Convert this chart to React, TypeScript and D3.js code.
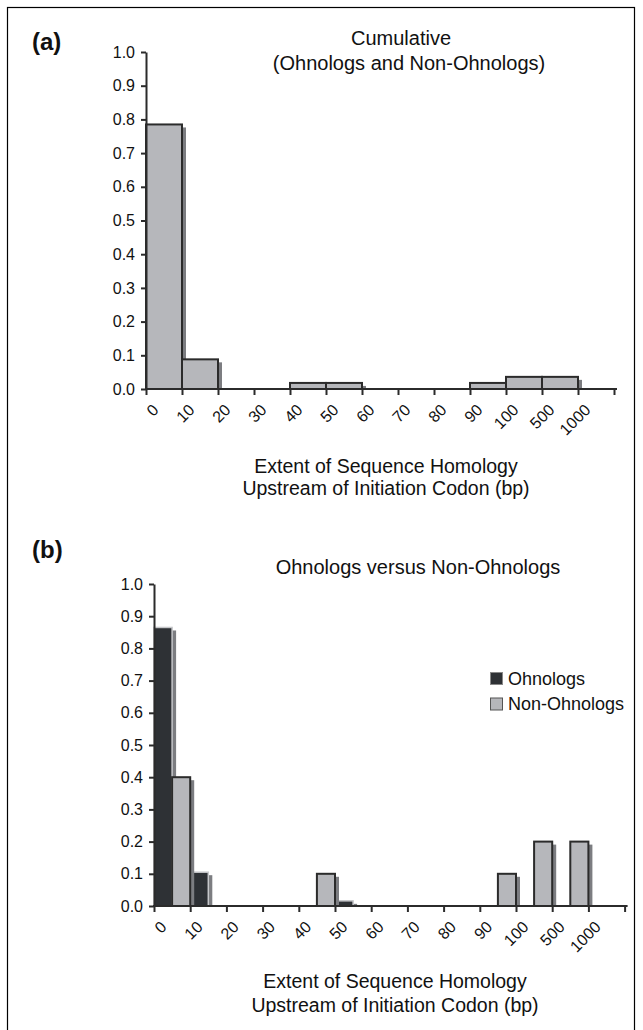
import * as d3 from "d3";
import { useEffect, useRef } from "react";

// bins
const categories = ["0", "10", "20", "30", "40", "50", "60", "70", "80", "90", "100", "500", "1000"];
const cumulative = [0.785, 0.088, 0, 0, 0.018, 0.018, 0, 0, 0, 0.018, 0.036, 0.036, 0];
const ohnologs = [0.865, 0.105, 0, 0, 0, 0.016, 0, 0, 0, 0, 0, 0, 0];
const nonOhnologs = [0.4, 0, 0, 0, 0.1, 0, 0, 0, 0, 0.1, 0.2, 0.2, 0];
const yTicks = [0, 0.1, 0.2, 0.3, 0.4, 0.5, 0.6, 0.7, 0.8, 0.9, 1.0];
const seriesNames = ["Ohnologs", "Non-Ohnologs"];

const FONT = "'Liberation Sans', Arial, Helvetica, sans-serif";
const GRAY = "#b6b7bb";
const DARK = "#2e3135";
const SHADOW = "#7c7d81";
const INK = "#2b2b2b";

type Panel = { left: number; top: number; bottom: number; bandW: number };
type Bar = { x: number; w: number; v: number };

function drawAxes(g: any, p: Panel) {
  const y = d3.scaleLinear().domain([0, 1]).range([p.bottom, p.top]);
  const n = categories.length;
  const xi = d3.scaleLinear().domain([0, n]).range([p.left, p.left + p.bandW * n]);

  const ya = g.append("g")
    .attr("transform", `translate(${p.left},0)`)
    .call(d3.axisLeft(y).tickValues(yTicks).tickFormat(d3.format(".1f")).tickSize(5).tickPadding(6).tickSizeOuter(0));
  ya.select(".domain").attr("stroke", INK).attr("stroke-width", 2);
  ya.selectAll(".tick line").attr("stroke", INK).attr("stroke-width", 2);
  ya.selectAll("text").attr("font-family", FONT).attr("font-size", 16).attr("fill", "#111");

  // ticks sit on the bin edges, labels at the left edge of each bin
  const xa = g.append("g")
    .attr("transform", `translate(0,${p.bottom})`)
    .call(d3.axisBottom(xi).tickValues(d3.range(n + 1)).tickFormat((i: any) => categories[i] ?? "").tickSize(6));
  xa.select(".domain").remove();
  xa.selectAll(".tick line").attr("stroke", INK).attr("stroke-width", 2);
  xa.selectAll("text")
    .attr("font-family", FONT).attr("font-size", 16).attr("fill", "#111")
    .attr("x", 0).attr("y", 0).attr("dy", 0)
    .attr("text-anchor", "end")
    .attr("transform", "translate(13,22) rotate(-45)");
  g.append("line")
    .attr("x1", p.left - 1).attr("x2", xi(n) + 3)
    .attr("y1", p.bottom).attr("y2", p.bottom)
    .attr("stroke", INK).attr("stroke-width", 2);
  return y;
}

function shadows(g: any, data: Bar[], y: any) {
  const d = data.filter(e => e.v > 0);
  g.append("g").selectAll("rect").data(d).enter().append("rect")
    .attr("x", (e: Bar) => e.x + 4).attr("y", (e: Bar) => y(e.v) + 3)
    .attr("width", (e: Bar) => e.w).attr("height", (e: Bar) => y(0) - y(e.v) - 3)
    .attr("fill", SHADOW);
  return d;
}

function fronts(g: any, d: Bar[], y: any, fill: string, stroke: string, sw: number) {
  g.append("g").selectAll("rect").data(d).enter().append("rect")
    .attr("x", (e: Bar) => e.x).attr("y", (e: Bar) => y(e.v))
    .attr("width", (e: Bar) => e.w).attr("height", (e: Bar) => y(0) - y(e.v))
    .attr("fill", fill).attr("stroke", stroke).attr("stroke-width", sw);
}

export default function App() {
  const ref = useRef<SVGSVGElement>(null);

  useEffect(() => {
    document.body.style.margin = "0";
    const svg = d3.select(ref.current);
    svg.selectAll("*").remove();

    svg.append("rect").attr("x", 7.5).attr("y", 7.5).attr("width", 627).attr("height", 1040)
      .attr("fill", "none").attr("stroke", "#000").attr("stroke-width", 1.2);

    const text = (x: number, yy: number, s: string, size: number, anchor = "middle", weight = "normal") =>
      svg.append("text").attr("x", x).attr("y", yy).attr("text-anchor", anchor)
        .attr("font-family", FONT).attr("font-size", size).attr("font-weight", weight).attr("fill", "#111").text(s);

    // (a) cumulative
    const pa: Panel = { left: 146, top: 52, bottom: 389, bandW: 36 };
    const ga = svg.append("g");
    const xa = d3.scaleBand().domain(categories).range([pa.left, pa.left + pa.bandW * categories.length]);
    const ya = d3.scaleLinear().domain([0, 1]).range([pa.bottom, pa.top]);
    const da = shadows(ga, cumulative.map((v, i) => ({ x: xa(categories[i])!, w: xa.bandwidth(), v })), ya);
    fronts(ga, da, ya, GRAY, INK, 2);
    drawAxes(ga, pa);

    text(32, 50, "(a)", 24, "start", "bold");
    text(401, 45, "Cumulative", 20);
    text(409, 70, "(Ohnologs and Non-Ohnologs)", 20);
    text(386, 473, "Extent of Sequence Homology", 19.5);
    text(386, 495, "Upstream of Initiation Codon (bp)", 19.5);

    // (b) ohnologs vs non-ohnologs
    const pb: Panel = { left: 154, top: 584, bottom: 906, bandW: 36.2 };
    const gb = svg.append("g");
    const xb = d3.scaleBand().domain(categories).range([pb.left, pb.left + pb.bandW * categories.length]);
    const xs = d3.scaleBand().domain(seriesNames).range([0, xb.bandwidth()]);
    const yb = d3.scaleLinear().domain([0, 1]).range([pb.bottom, pb.top]);
    const dO = ohnologs.map((v, i) => ({ x: xb(categories[i])! + xs("Ohnologs")!, w: xs.bandwidth(), v }));
    const dN = nonOhnologs.map((v, i) => ({ x: xb(categories[i])! + xs("Non-Ohnologs")!, w: xs.bandwidth(), v }));
    const sO = shadows(gb, dO, yb);
    fronts(gb, sO, yb, DARK, "#c6c7ca", 1.5);
    const sN = shadows(gb, dN, yb);
    fronts(gb, sN, yb, GRAY, INK, 2);
    drawAxes(gb, pb);

    text(32, 558, "(b)", 24, "start", "bold");
    text(418, 574, "Ohnologs versus Non-Ohnologs", 20);
    text(395, 988, "Extent of Sequence Homology", 19.5);
    text(395, 1012, "Upstream of Initiation Codon (bp)", 19.5);

    // legend
    const lg = svg.append("g").attr("transform", "translate(490,672)");
    const leg = lg.selectAll("g").data(seriesNames).enter().append("g")
      .attr("transform", (_d, i) => `translate(0,${i * 25.5})`);
    leg.append("rect").attr("x", 0.5).attr("y", 0.5).attr("width", 12).attr("height", 12)
      .attr("fill", (_d, i) => (i === 0 ? DARK : GRAY))
      .attr("stroke", (_d, i) => (i === 0 ? "#888" : "#555")).attr("stroke-width", 1);
    leg.append("text").attr("x", 18).attr("y", 12.5)
      .attr("font-family", FONT).attr("font-size", 18).attr("fill", "#111").text(d => d);
  }, []);

  return <svg ref={ref} width={643} height={1030} style={{ display: "block", background: "#fff" }}></svg>;
}
